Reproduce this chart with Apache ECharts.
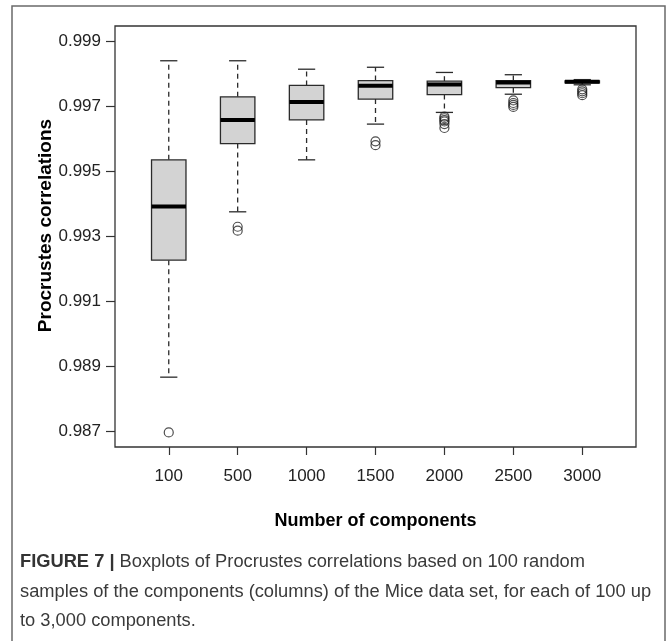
<!DOCTYPE html>
<html>
<head>
<meta charset="utf-8">
<script src="https://cdn.jsdelivr.net/npm/echarts@6/dist/echarts.min.js"></script>
<style>
  html, body { margin: 0; padding: 0; background: #fff; }
  #chart { width: 668px; height: 641px; }
</style>
</head>
<body>
<div id="chart"></div>
<script>
// Number of components sampled in each group
const categories = ['100', '500', '1000', '1500', '2000', '2500', '3000'];

// Five-number summaries of the Procrustes correlations per group
const whiskerLow  = [0.98867, 0.99376, 0.99536, 0.99646, 0.99682, 0.99738, 0.99767];
const quartile1   = [0.99227, 0.99586, 0.99659, 0.99723, 0.99737, 0.99758, 0.99773];
const medians     = [0.99392, 0.99659, 0.99714, 0.99764, 0.99768, 0.99774, 0.99776];
const quartile3   = [0.99536, 0.99730, 0.99765, 0.99780, 0.99778, 0.99780, 0.99779];
const whiskerHigh = [0.99841, 0.99841, 0.99815, 0.99821, 0.99805, 0.99798, 0.99783];

// Points beyond the whiskers
const outliers = [
  [0.98697],
  [0.99330, 0.99318],
  [],
  [0.99593, 0.99581],
  [0.99669, 0.99664, 0.99658, 0.99654, 0.99646, 0.99634],
  [0.99719, 0.99711, 0.99705, 0.99699],
  [0.99753, 0.99747, 0.99741, 0.99735]
];

// Y-axis tick values
const yTicks = [0.987, 0.989, 0.991, 0.993, 0.995, 0.997, 0.999];

const xPositions = categories.map((_, i) => i + 1);
const boxData = categories.map((_, i) => [
  i + 1, whiskerLow[i], quartile1[i], medians[i], quartile3[i], whiskerHigh[i]
]);
const outlierData = [];
outliers.forEach((vals, i) => vals.forEach(v => outlierData.push([i + 1, v])));

const BOX_WEX = 0.5;      // box width in x units
const STAPLE_WEX = 0.25;  // whisker cap width in x units

function renderBox(params, api) {
  const x = api.value(0);
  const pLo = api.coord([x, api.value(1)]);
  const pQ1 = api.coord([x, api.value(2)]);
  const pMed = api.coord([x, api.value(3)]);
  const pQ3 = api.coord([x, api.value(4)]);
  const pHi = api.coord([x, api.value(5)]);
  const half = api.size([BOX_WEX, 0])[0] / 2;
  const capHalf = api.size([STAPLE_WEX, 0])[0] / 2;
  const cx = pMed[0];
  const lineStyle = { stroke: '#2b2b2b', lineWidth: 1.3, fill: null };
  const dashStyle = { stroke: '#2b2b2b', lineWidth: 1.3, lineDash: [5, 4], fill: null };
  return {
    type: 'group',
    children: [
      { type: 'line', shape: { x1: cx, y1: pQ3[1], x2: cx, y2: pHi[1] }, style: dashStyle },
      { type: 'line', shape: { x1: cx, y1: pQ1[1], x2: cx, y2: pLo[1] }, style: dashStyle },
      { type: 'line', shape: { x1: cx - capHalf, y1: pHi[1], x2: cx + capHalf, y2: pHi[1] }, style: lineStyle },
      { type: 'line', shape: { x1: cx - capHalf, y1: pLo[1], x2: cx + capHalf, y2: pLo[1] }, style: lineStyle },
      { type: 'rect', shape: { x: cx - half, y: pQ3[1], width: half * 2, height: pQ1[1] - pQ3[1] },
        style: { fill: '#d3d3d3', stroke: '#2b2b2b', lineWidth: 1.3 } },
      { type: 'line', shape: { x1: cx - half, y1: pMed[1], x2: cx + half, y2: pMed[1] },
        style: { stroke: '#000', lineWidth: 4 } }
    ]
  };
}

const chart = echarts.init(document.getElementById('chart'), null, { renderer: 'canvas' });

const captionFont = '18.3px "Liberation Sans"';

chart.setOption({
  animation: false,
  backgroundColor: '#fff',
  grid: {
    left: 115, right: 32, top: 26, bottom: 194,
    show: true, borderColor: '#333', borderWidth: 1.3, backgroundColor: 'transparent',
    containLabel: false, outerBoundsMode: 'none'
  },
  xAxis: {
    type: 'value',
    min: 0.22, max: 7.78,
    axisLine: { show: false },
    splitLine: { show: false },
    axisTick: { show: true, customValues: xPositions, length: 8, lineStyle: { color: '#333', width: 1.2 } },
    axisLabel: {
      customValues: xPositions,
      formatter: v => categories[Math.round(v) - 1],
      fontFamily: 'Liberation Sans', fontSize: 17, color: '#222',
      margin: 21
    },
    name: 'Number of components',
    nameLocation: 'middle', nameGap: 65, nameMoveOverlap: false,
    nameTextStyle: { fontFamily: 'Liberation Sans', fontWeight: 'bold', fontSize: 18, color: '#000' }
  },
  yAxis: {
    type: 'value',
    min: 0.98652, max: 0.99948,
    axisLine: { show: false },
    splitLine: { show: false },
    axisTick: { show: true, customValues: yTicks, length: 9, lineStyle: { color: '#333', width: 1.2 } },
    axisLabel: {
      customValues: yTicks,
      formatter: v => v.toFixed(3),
      fontFamily: 'Liberation Sans', fontSize: 17, color: '#222',
      margin: 14
    },
    name: 'Procrustes correlations',
    nameLocation: 'middle', nameGap: 60, nameMoveOverlap: false,
    nameTextStyle: {
      fontFamily: 'Liberation Sans', fontWeight: 'bold', fontSize: 19, color: '#000',
      padding: [0, 0, 0, 22]
    }
  },
  series: [
    {
      type: 'custom',
      renderItem: renderBox,
      data: boxData,
      encode: { x: 0, y: [1, 2, 3, 4, 5] },
      clip: false,
      silent: true
    },
    {
      type: 'scatter',
      data: outlierData,
      symbol: 'circle',
      symbolSize: 9,
      itemStyle: { color: 'rgba(0,0,0,0)', borderColor: '#222', borderWidth: 1.2 },
      silent: true
    }
  ],
  graphic: [
    {
      type: 'rect', silent: true,
      shape: { x: 12, y: 6, width: 653, height: 700 },
      style: { fill: null, stroke: '#6a6a6a', lineWidth: 1.5 }
    },
    {
      type: 'text', x: 20, y: 562, silent: true,
      style: {
        text: '{b|FIGURE 7 |} Boxplots of Procrustes correlations based on 100 random',
        font: captionFont, fill: '#3a3a3a', verticalAlign: 'middle',
        rich: { b: { fontWeight: 'bold', fontSize: 18.3, fontFamily: 'Liberation Sans', fill: '#333' } }
      }
    },
    {
      type: 'text', x: 20, y: 592, silent: true,
      style: {
        text: 'samples of the components (columns) of the Mice data set, for each of 100 up',
        font: captionFont, fill: '#3a3a3a', verticalAlign: 'middle'
      }
    },
    {
      type: 'text', x: 20, y: 621, silent: true,
      style: {
        text: 'to 3,000 components.',
        font: captionFont, fill: '#3a3a3a', verticalAlign: 'middle'
      }
    }
  ]
});
</script>
</body>
</html>
